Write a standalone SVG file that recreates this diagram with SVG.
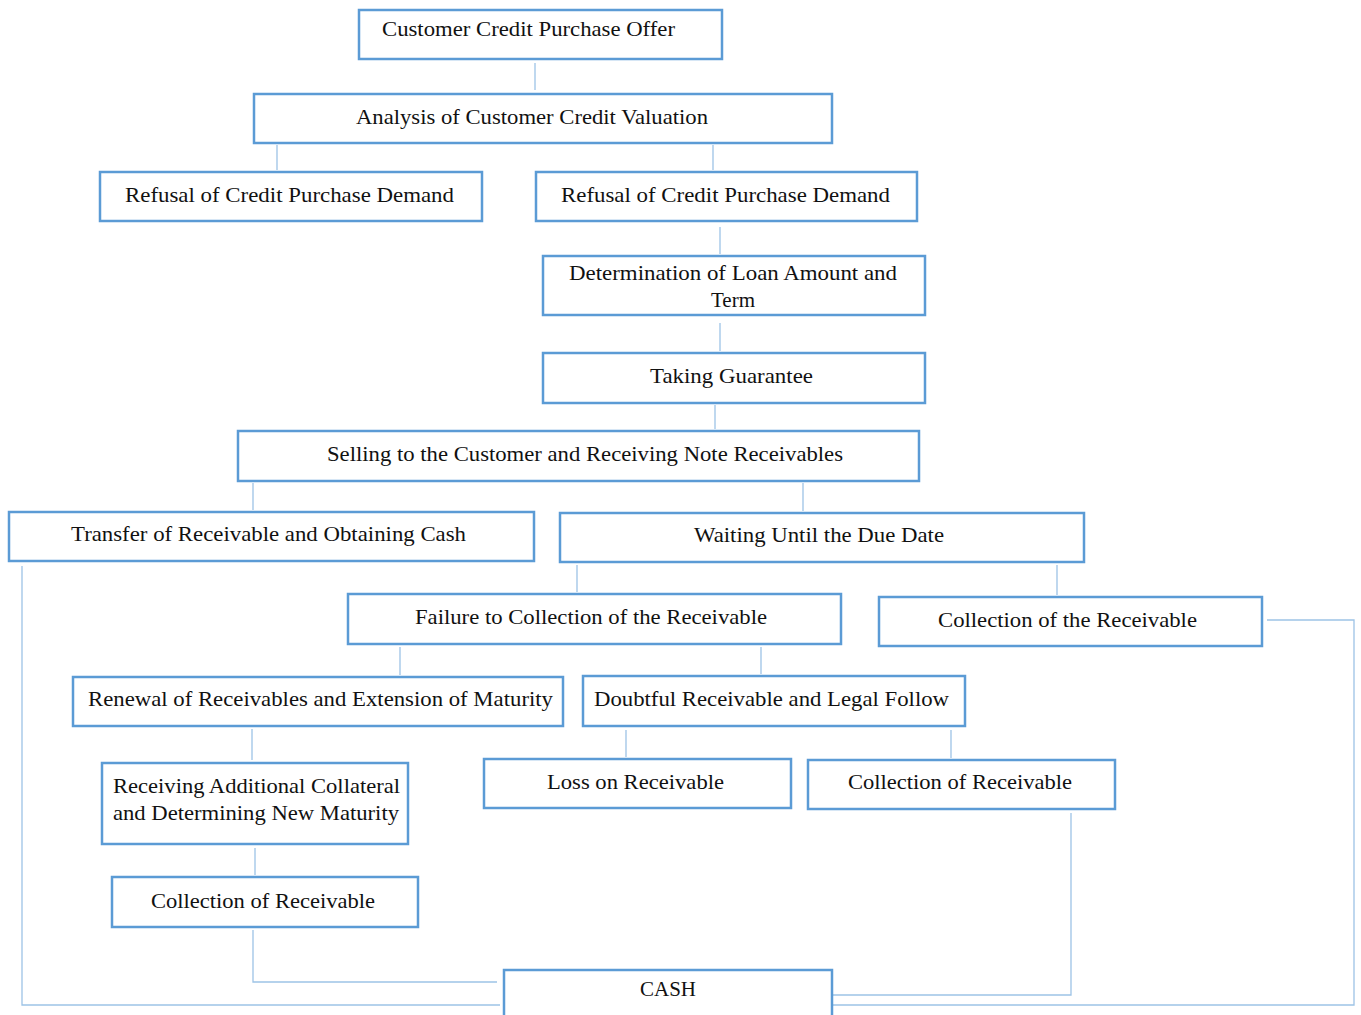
<svg xmlns="http://www.w3.org/2000/svg" width="1361" height="1015" viewBox="0 0 1361 1015">
<style>
.box{fill:#fff;stroke:#5b9bd5;stroke-width:2.5}
.t{font-family:'Liberation Serif','Times New Roman','DejaVu Serif',serif;font-size:21px;fill:#111}
.c{fill:none;stroke:#9dc3e6;stroke-width:1.3}
</style>
<rect width="1361" height="1015" fill="#fff"/>
<g id="connectors">
<path class="c" d="M535 63V90"/>
<path class="c" d="M277 145V170M713 145V170"/>
<path class="c" d="M720 227V254"/>
<path class="c" d="M720 323V351"/>
<path class="c" d="M715 405V429"/>
<path class="c" d="M253 483V510M803 483V511"/>
<path class="c" d="M577 565V592M1057 565V595"/>
<path class="c" d="M400 647V675M761 647V674"/>
<path class="c" d="M252 729V760"/>
<path class="c" d="M626 730V757M951 730V758"/>
<path class="c" d="M255 848V875"/>
<path class="c" d="M22 566V1005H500"/>
<path class="c" d="M253 930V982H497"/>
<path class="c" d="M1071 813V995H833"/>
<path class="c" d="M1267 620H1354V1005H833"/>
</g>
<g id="n1"><rect class="box" x="359" y="10" width="363" height="49"/><text class="t" x="382" y="36" textLength="293" lengthAdjust="spacingAndGlyphs">Customer Credit Purchase Offer</text></g>
<g id="n2"><rect class="box" x="254" y="94" width="578" height="49"/><text class="t" x="356" y="124" textLength="352" lengthAdjust="spacingAndGlyphs">Analysis of Customer Credit Valuation</text></g>
<g id="n3"><rect class="box" x="100" y="172" width="382" height="49"/><text class="t" x="125" y="202" textLength="329" lengthAdjust="spacingAndGlyphs">Refusal of Credit Purchase Demand</text></g>
<g id="n4"><rect class="box" x="536" y="172" width="381" height="49"/><text class="t" x="561" y="202" textLength="329" lengthAdjust="spacingAndGlyphs">Refusal of Credit Purchase Demand</text></g>
<g id="n5"><rect class="box" x="543" y="256" width="382" height="59"/><text class="t" x="569" y="280" textLength="328" lengthAdjust="spacingAndGlyphs">Determination of Loan Amount and</text><text class="t" x="733" y="307" text-anchor="middle">Term</text></g>
<g id="n6"><rect class="box" x="543" y="353" width="382" height="50"/><text class="t" x="650" y="383" textLength="163" lengthAdjust="spacingAndGlyphs">Taking  Guarantee</text></g>
<g id="n7"><rect class="box" x="238" y="431" width="681" height="50"/><text class="t" x="327" y="461" textLength="516" lengthAdjust="spacingAndGlyphs">Selling  to the Customer and Receiving  Note Receivables</text></g>
<g id="n8"><rect class="box" x="9" y="512" width="525" height="49"/><text class="t" x="71" y="541" textLength="395" lengthAdjust="spacingAndGlyphs">Transfer  of Receivable  and Obtaining Cash</text></g>
<g id="n9"><rect class="box" x="560" y="513" width="524" height="49"/><text class="t" x="694" y="542" textLength="250" lengthAdjust="spacingAndGlyphs">Waiting  Until  the Due Date</text></g>
<g id="n10"><rect class="box" x="348" y="594" width="493" height="50"/><text class="t" x="415" y="624" textLength="352" lengthAdjust="spacingAndGlyphs">Failure  to Collection of the Receivable</text></g>
<g id="n11"><rect class="box" x="879" y="597" width="383" height="49"/><text class="t" x="938" y="627" textLength="259" lengthAdjust="spacingAndGlyphs">Collection  of the Receivable</text></g>
<g id="n12"><rect class="box" x="73" y="677" width="490" height="49"/><text class="t" x="88" y="706" textLength="465" lengthAdjust="spacingAndGlyphs">Renewal of Receivables  and Extension of Maturity</text></g>
<g id="n13"><rect class="box" x="583" y="676" width="382" height="50"/><text class="t" x="594" y="706" textLength="355" lengthAdjust="spacingAndGlyphs">Doubtful Receivable  and Legal  Follow</text></g>
<g id="n14"><rect class="box" x="102" y="763" width="306" height="81"/><text class="t" x="113" y="793" textLength="287" lengthAdjust="spacingAndGlyphs">Receiving  Additional  Collateral</text><text class="t" x="113" y="820" textLength="286" lengthAdjust="spacingAndGlyphs">and Determining  New Maturity</text></g>
<g id="n15"><rect class="box" x="484" y="759" width="307" height="49"/><text class="t" x="547" y="789" textLength="177" lengthAdjust="spacingAndGlyphs">Loss on Receivable</text></g>
<g id="n16"><rect class="box" x="808" y="760" width="307" height="49"/><text class="t" x="848" y="789" textLength="224" lengthAdjust="spacingAndGlyphs">Collection  of Receivable</text></g>
<g id="n17"><rect class="box" x="112" y="877" width="306" height="50"/><text class="t" x="151" y="908" textLength="224" lengthAdjust="spacingAndGlyphs">Collection  of Receivable</text></g>
<g id="n18"><rect class="box" x="504" y="970" width="328" height="55"/><text class="t" x="668" y="996" text-anchor="middle">CASH</text></g>
</svg>
